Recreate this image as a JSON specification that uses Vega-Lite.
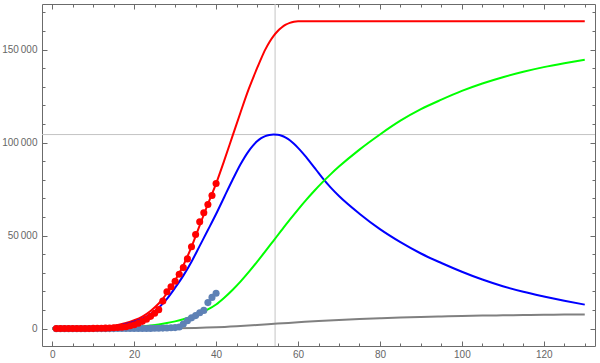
{
  "$schema": "https://vega.github.io/schema/vega-lite/v6.json",
  "width": 553,
  "height": 342,
  "autosize": {"type": "none"},
  "padding": {"left": 42, "top": 4, "right": 5, "bottom": 17},
  "background": "white",
  "config": {
    "view": {"stroke": "#6b6b6b", "strokeWidth": 1},
    "axis": {"domain": false, "grid": false, "title": null, "labelFont": "Liberation Sans", "labelFontSize": 10, "labelColor": "#666666", "tickColor": "#6b6b6b", "tickWidth": 1}
  },
  "datasets": {
    "model": [
      {"day": 0, "series": "Cumulative", "value": 45}, {"day": 2, "series": "Cumulative", "value": 60}, {"day": 4, "series": "Cumulative", "value": 100}, {"day": 6, "series": "Cumulative", "value": 170}, {"day": 8, "series": "Cumulative", "value": 280}, {"day": 10, "series": "Cumulative", "value": 450}, {"day": 12, "series": "Cumulative", "value": 750}, {"day": 14, "series": "Cumulative", "value": 1200}, {"day": 16, "series": "Cumulative", "value": 1900}, {"day": 18, "series": "Cumulative", "value": 3000}, {"day": 20, "series": "Cumulative", "value": 4500}, {"day": 22, "series": "Cumulative", "value": 6500}, {"day": 24, "series": "Cumulative", "value": 9500}, {"day": 26, "series": "Cumulative", "value": 13500}, {"day": 28, "series": "Cumulative", "value": 19000}, {"day": 30, "series": "Cumulative", "value": 26000}, {"day": 32, "series": "Cumulative", "value": 34000}, {"day": 34, "series": "Cumulative", "value": 44000}, {"day": 36, "series": "Cumulative", "value": 55500}, {"day": 38, "series": "Cumulative", "value": 67000}, {"day": 40, "series": "Cumulative", "value": 78000}, {"day": 42, "series": "Cumulative", "value": 90500}, {"day": 44, "series": "Cumulative", "value": 103500}, {"day": 46, "series": "Cumulative", "value": 116500}, {"day": 48, "series": "Cumulative", "value": 129000}, {"day": 50, "series": "Cumulative", "value": 140000}, {"day": 51, "series": "Cumulative", "value": 145200}, {"day": 52, "series": "Cumulative", "value": 150000}, {"day": 53, "series": "Cumulative", "value": 154000}, {"day": 54, "series": "Cumulative", "value": 157300}, {"day": 55, "series": "Cumulative", "value": 159900}, {"day": 56, "series": "Cumulative", "value": 161900}, {"day": 57, "series": "Cumulative", "value": 163400}, {"day": 58, "series": "Cumulative", "value": 164400}, {"day": 59, "series": "Cumulative", "value": 165000}, {"day": 60, "series": "Cumulative", "value": 165200}, {"day": 70, "series": "Cumulative", "value": 165200}, {"day": 80, "series": "Cumulative", "value": 165200}, {"day": 90, "series": "Cumulative", "value": 165200}, {"day": 100, "series": "Cumulative", "value": 165200}, {"day": 110, "series": "Cumulative", "value": 165200}, {"day": 120, "series": "Cumulative", "value": 165200}, {"day": 130, "series": "Cumulative", "value": 165200},
      {"day": 0, "series": "Infected", "value": 40}, {"day": 2, "series": "Infected", "value": 50}, {"day": 4, "series": "Infected", "value": 82}, {"day": 6, "series": "Infected", "value": 140}, {"day": 8, "series": "Infected", "value": 230}, {"day": 10, "series": "Infected", "value": 370}, {"day": 12, "series": "Infected", "value": 610}, {"day": 14, "series": "Infected", "value": 980}, {"day": 16, "series": "Infected", "value": 1550}, {"day": 18, "series": "Infected", "value": 2450}, {"day": 20, "series": "Infected", "value": 3700}, {"day": 22, "series": "Infected", "value": 5300}, {"day": 24, "series": "Infected", "value": 7800}, {"day": 26, "series": "Infected", "value": 11200}, {"day": 28, "series": "Infected", "value": 16000}, {"day": 30, "series": "Infected", "value": 22000}, {"day": 32, "series": "Infected", "value": 28500}, {"day": 34, "series": "Infected", "value": 36000}, {"day": 36, "series": "Infected", "value": 44500}, {"day": 38, "series": "Infected", "value": 53000}, {"day": 40, "series": "Infected", "value": 61600}, {"day": 42, "series": "Infected", "value": 70800}, {"day": 44, "series": "Infected", "value": 79900}, {"day": 46, "series": "Infected", "value": 88500}, {"day": 48, "series": "Infected", "value": 95600}, {"day": 49, "series": "Infected", "value": 98400}, {"day": 50, "series": "Infected", "value": 100700}, {"day": 51, "series": "Infected", "value": 102400}, {"day": 52, "series": "Infected", "value": 103500}, {"day": 53, "series": "Infected", "value": 104100}, {"day": 54, "series": "Infected", "value": 104340}, {"day": 55, "series": "Infected", "value": 104250}, {"day": 56, "series": "Infected", "value": 103700}, {"day": 57, "series": "Infected", "value": 102700}, {"day": 58, "series": "Infected", "value": 101300}, {"day": 59, "series": "Infected", "value": 99400}, {"day": 60, "series": "Infected", "value": 97200}, {"day": 61, "series": "Infected", "value": 94800}, {"day": 62, "series": "Infected", "value": 92200}, {"day": 63, "series": "Infected", "value": 89400}, {"day": 64, "series": "Infected", "value": 86600}, {"day": 65, "series": "Infected", "value": 83700}, {"day": 66, "series": "Infected", "value": 80900}, {"day": 68, "series": "Infected", "value": 75800}, {"day": 70, "series": "Infected", "value": 71300}, {"day": 75, "series": "Infected", "value": 61800}, {"day": 80, "series": "Infected", "value": 53500}, {"day": 85, "series": "Infected", "value": 46500}, {"day": 90, "series": "Infected", "value": 40400}, {"day": 95, "series": "Infected", "value": 35300}, {"day": 100, "series": "Infected", "value": 30600}, {"day": 105, "series": "Infected", "value": 26400}, {"day": 110, "series": "Infected", "value": 22800}, {"day": 115, "series": "Infected", "value": 19800}, {"day": 120, "series": "Infected", "value": 17300}, {"day": 125, "series": "Infected", "value": 15000}, {"day": 130, "series": "Infected", "value": 12900},
      {"day": 0, "series": "Recovered", "value": 0}, {"day": 5, "series": "Recovered", "value": 20}, {"day": 10, "series": "Recovered", "value": 90}, {"day": 15, "series": "Recovered", "value": 280}, {"day": 20, "series": "Recovered", "value": 800}, {"day": 22, "series": "Recovered", "value": 1150}, {"day": 24, "series": "Recovered", "value": 1650}, {"day": 26, "series": "Recovered", "value": 2250}, {"day": 28, "series": "Recovered", "value": 3000}, {"day": 30, "series": "Recovered", "value": 3900}, {"day": 32, "series": "Recovered", "value": 5000}, {"day": 34, "series": "Recovered", "value": 6400}, {"day": 36, "series": "Recovered", "value": 8100}, {"day": 38, "series": "Recovered", "value": 10300}, {"day": 40, "series": "Recovered", "value": 13000}, {"day": 42, "series": "Recovered", "value": 16640}, {"day": 44, "series": "Recovered", "value": 20780}, {"day": 46, "series": "Recovered", "value": 25420}, {"day": 48, "series": "Recovered", "value": 30490}, {"day": 50, "series": "Recovered", "value": 35900}, {"day": 52, "series": "Recovered", "value": 41510}, {"day": 54, "series": "Recovered", "value": 47220}, {"day": 56, "series": "Recovered", "value": 52940}, {"day": 58, "series": "Recovered", "value": 58570}, {"day": 60, "series": "Recovered", "value": 64020}, {"day": 62, "series": "Recovered", "value": 69230}, {"day": 64, "series": "Recovered", "value": 74140}, {"day": 66, "series": "Recovered", "value": 78750}, {"day": 68, "series": "Recovered", "value": 83070}, {"day": 70, "series": "Recovered", "value": 87110}, {"day": 75, "series": "Recovered", "value": 96260}, {"day": 80, "series": "Recovered", "value": 104400}, {"day": 85, "series": "Recovered", "value": 111800}, {"day": 90, "series": "Recovered", "value": 118000}, {"day": 95, "series": "Recovered", "value": 123100}, {"day": 100, "series": "Recovered", "value": 127800}, {"day": 105, "series": "Recovered", "value": 131800}, {"day": 110, "series": "Recovered", "value": 135200}, {"day": 115, "series": "Recovered", "value": 138100}, {"day": 120, "series": "Recovered", "value": 140600}, {"day": 125, "series": "Recovered", "value": 142700}, {"day": 130, "series": "Recovered", "value": 144600}
    ],
    "deaths": [
      {"day": 0, "value": 0}, {"day": 10, "value": 5}, {"day": 20, "value": 40}, {"day": 25, "value": 100}, {"day": 30, "value": 200}, {"day": 35, "value": 380}, {"day": 40, "value": 720}, {"day": 45, "value": 1270}, {"day": 50, "value": 1930}, {"day": 55, "value": 2700}, {"day": 60, "value": 3400}, {"day": 65, "value": 4100}, {"day": 70, "value": 4700}, {"day": 75, "value": 5200}, {"day": 80, "value": 5600}, {"day": 85, "value": 6000}, {"day": 90, "value": 6300}, {"day": 95, "value": 6550}, {"day": 100, "value": 6800}, {"day": 105, "value": 7000}, {"day": 110, "value": 7150}, {"day": 115, "value": 7300}, {"day": 120, "value": 7450}, {"day": 125, "value": 7550}, {"day": 130, "value": 7650}
    ],
    "obs": [
      {"day": 1, "confirmed": 40, "recovered": 0}, {"day": 2, "confirmed": 45, "recovered": 0}, {"day": 3, "confirmed": 50, "recovered": 0}, {"day": 4, "confirmed": 55, "recovered": 0}, {"day": 5, "confirmed": 60, "recovered": 0}, {"day": 6, "confirmed": 70, "recovered": 0}, {"day": 7, "confirmed": 80, "recovered": 0}, {"day": 8, "confirmed": 95, "recovered": 0}, {"day": 9, "confirmed": 110, "recovered": 2}, {"day": 10, "confirmed": 130, "recovered": 3}, {"day": 11, "confirmed": 160, "recovered": 5}, {"day": 12, "confirmed": 200, "recovered": 8}, {"day": 13, "confirmed": 260, "recovered": 12}, {"day": 14, "confirmed": 330, "recovered": 15}, {"day": 15, "confirmed": 430, "recovered": 20}, {"day": 16, "confirmed": 560, "recovered": 25}, {"day": 17, "confirmed": 750, "recovered": 30}, {"day": 18, "confirmed": 1050, "recovered": 35}, {"day": 19, "confirmed": 1500, "recovered": 40}, {"day": 20, "confirmed": 2100, "recovered": 50}, {"day": 21, "confirmed": 2900, "recovered": 60}, {"day": 22, "confirmed": 3900, "recovered": 80}, {"day": 23, "confirmed": 5100, "recovered": 100}, {"day": 24, "confirmed": 6600, "recovered": 130}, {"day": 25, "confirmed": 8300, "recovered": 170}, {"day": 26, "confirmed": 10200, "recovered": 220}, {"day": 27, "confirmed": 14800, "recovered": 280}, {"day": 28, "confirmed": 19800, "recovered": 350}, {"day": 29, "confirmed": 22500, "recovered": 430}, {"day": 30, "confirmed": 25500, "recovered": 550}, {"day": 31, "confirmed": 29200, "recovered": 900}, {"day": 32, "confirmed": 32800, "recovered": 2500}, {"day": 33, "confirmed": 37500, "recovered": 4300}, {"day": 34, "confirmed": 44000, "recovered": 5800}, {"day": 35, "confirmed": 50600, "recovered": 7000}, {"day": 36, "confirmed": 57500, "recovered": 8500}, {"day": 37, "confirmed": 62300, "recovered": 9800}, {"day": 38, "confirmed": 66700, "recovered": 14000}, {"day": 39, "confirmed": 71600, "recovered": 16800}, {"day": 40, "confirmed": 78000, "recovered": 19000}
    ]
  },
  "layer": [
    {
      "data": {"values": [{}]},
      "mark": {"type": "rule", "color": "#c4c4c4", "strokeWidth": 1},
      "encoding": {
        "x": {"datum": 54.4, "type": "quantitative", "scale": {"domain": [-2.5, 132.5], "nice": false, "zero": false},
              "axis": {"orient": "bottom", "values": [5, 10, 15, 25, 30, 35, 45, 50, 55, 65, 70, 75, 85, 90, 95, 105, 110, 115, 125, 130], "labels": false, "tickSize": -3}}
      }
    },
    {
      "data": {"values": [{}]},
      "mark": {"type": "rule", "color": "#c4c4c4", "strokeWidth": 1},
      "encoding": {
        "y": {"datum": 104350, "type": "quantitative", "scale": {"domain": [-9340, 174540], "nice": false, "zero": false},
              "axis": {"orient": "left", "values": [10000, 20000, 30000, 40000, 60000, 70000, 80000, 90000, 110000, 120000, 130000, 140000, 160000, 170000], "labels": false, "tickSize": -3}}
      }
    },
    {
      "data": {"name": "model"},
      "mark": {"type": "line", "strokeWidth": 2, "interpolate": "monotone", "clip": true},
      "encoding": {
        "x": {"field": "day", "type": "quantitative", "scale": {"domain": [-2.5, 132.5], "nice": false, "zero": false},
              "axis": {"orient": "bottom", "values": [0, 20, 40, 60, 80, 100, 120], "ticks": false, "labelPadding": 3, "labelFlush": false}},
        "y": {"field": "value", "type": "quantitative", "scale": {"domain": [-9340, 174540], "nice": false, "zero": false},
              "axis": {"orient": "left", "values": [0, 50000, 100000, 150000], "ticks": false, "labelPadding": 5, "labelExpr": "replace(format(datum.value, ','), ',', '\u2009')"}},
        "color": {"field": "series", "type": "nominal", "legend": null,
                  "scale": {"domain": ["Cumulative", "Infected", "Recovered"], "range": ["#ff0000", "#0000ff", "#00ff00"]}}
      }
    },
    {
      "data": {"name": "deaths"},
      "mark": {"type": "line", "strokeWidth": 2, "color": "#808080", "interpolate": "monotone", "clip": true},
      "encoding": {
        "x": {"field": "day", "type": "quantitative", "scale": {"domain": [-2.5, 132.5], "nice": false, "zero": false},
              "axis": {"orient": "bottom", "values": [0, 20, 40, 60, 80, 100, 120], "labels": false, "tickSize": -5}},
        "y": {"field": "value", "type": "quantitative", "scale": {"domain": [-9340, 174540], "nice": false, "zero": false},
              "axis": {"orient": "left", "values": [0, 50000, 100000, 150000], "labels": false, "tickSize": -5}}
      }
    },
    {
      "data": {"name": "obs"},
      "mark": {"type": "circle", "size": 50, "opacity": 1, "color": "#5e81b5"},
      "encoding": {
        "x": {"field": "day", "type": "quantitative", "scale": {"domain": [-2.5, 132.5], "nice": false, "zero": false},
              "axis": {"orient": "top", "values": [0, 20, 40, 60, 80, 100, 120], "labels": false, "tickSize": -5}},
        "y": {"field": "recovered", "type": "quantitative", "scale": {"domain": [-9340, 174540], "nice": false, "zero": false},
              "axis": {"orient": "right", "values": [0, 50000, 100000, 150000], "labels": false, "tickSize": -5}}
      }
    },
    {
      "data": {"name": "obs"},
      "mark": {"type": "circle", "size": 50, "opacity": 1, "color": "#ff0000"},
      "encoding": {
        "x": {"field": "day", "type": "quantitative", "scale": {"domain": [-2.5, 132.5], "nice": false, "zero": false},
              "axis": {"orient": "top", "values": [5, 10, 15, 25, 30, 35, 45, 50, 55, 65, 70, 75, 85, 90, 95, 105, 110, 115, 125, 130], "labels": false, "tickSize": -3}},
        "y": {"field": "confirmed", "type": "quantitative", "scale": {"domain": [-9340, 174540], "nice": false, "zero": false},
              "axis": {"orient": "right", "values": [10000, 20000, 30000, 40000, 60000, 70000, 80000, 90000, 110000, 120000, 130000, 140000, 160000, 170000], "labels": false, "tickSize": -3}}
      }
    }
  ],
  "resolve": {"axis": {"x": "independent", "y": "independent"}}
}
